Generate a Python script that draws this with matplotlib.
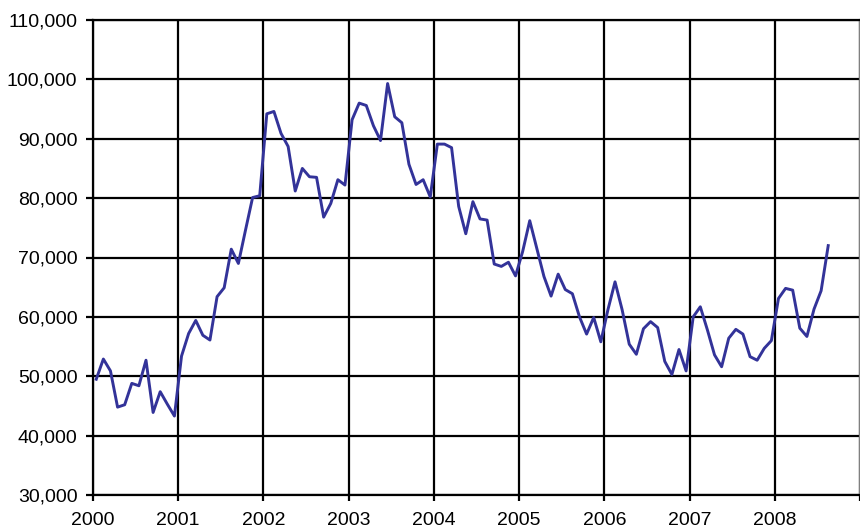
import numpy as np
import matplotlib
matplotlib.use('Agg')
import matplotlib.pyplot as plt
from matplotlib.ticker import FuncFormatter

# monthly values (thousands)
vals_2000 = [49.5, 52.9, 50.9, 44.8, 45.2, 48.8, 48.4, 52.7, 43.9, 47.4, 45.3, 43.3]
vals_2001 = [53.4, 57.2, 59.4, 56.9, 56.1, 63.4, 64.9, 71.4, 69.0, 74.6, 80.1, 80.4]
vals_2002 = [94.2, 94.6, 90.9, 88.7, 81.2, 85.0, 83.6, 83.5, 76.8, 79.1, 83.1, 82.2]
vals_2003 = [93.2, 96.0, 95.6, 92.2, 89.7, 99.3, 93.7, 92.7, 85.7, 82.3, 83.1, 80.2]
vals_2004 = [89.1, 89.1, 88.5, 78.6, 74.0, 79.4, 76.5, 76.3, 68.9, 68.5, 69.2, 66.9]
vals_2005 = [71.0, 76.2, 71.5, 66.8, 63.5, 67.2, 64.6, 63.9, 60.0, 57.1, 59.9, 55.8]
vals_2006 = [61.2, 65.9, 61.2, 55.4, 53.7, 58.0, 59.2, 58.2, 52.5, 50.3, 54.5, 50.9]
vals_2007 = [60.0, 61.7, 57.8, 53.6, 51.6, 56.4, 57.9, 57.1, 53.3, 52.7, 54.7, 56.0]
vals_2008 = [63.1, 64.8, 64.5, 58.1, 56.7, 61.3, 64.4, 72.0]

years = list(range(2000, 2010))
year_labels = [str(y) for y in range(2000, 2009)] + ['']  # 2009 falls off the edge
yticks = list(range(30000, 110001, 10000))

values = np.array(vals_2000 + vals_2001 + vals_2002 + vals_2003 + vals_2004
                  + vals_2005 + vals_2006 + vals_2007 + vals_2008) * 1000
# points sit mid-month
t = 2000 + (np.arange(len(values)) + 0.5) / 12

plt.rcParams['font.family'] = ['Liberation Sans', 'DejaVu Sans']

fig = plt.figure(figsize=(8.6, 5.31), dpi=100)
ax = fig.add_axes([92.7 / 860, 1 - 495 / 531, 767.5 / 860, 475 / 531])

ax.plot(t, values, color='#333399', lw=2.1, zorder=3)

ax.set_xlim(2000, 2009)
ax.set_ylim(30000, 110000)
ax.set_xticks(years)
ax.set_xticklabels(year_labels)
ax.set_yticks(yticks)
ax.yaxis.set_major_formatter(FuncFormatter(lambda v, p: '{:,.0f}'.format(v)))

ax.grid(True, color='black', lw=1.6)
ax.set_axisbelow(True)
for s in ax.spines.values():
    s.set_color('black')
    s.set_linewidth(1.6)
ax.spines['right'].set_color('#808080')

ax.tick_params(axis='y', direction='out', length=5, width=1.6, pad=6,
               labelsize=14, colors='black')
ax.tick_params(axis='x', direction='out', length=4.3, width=1.6, pad=8,
               labelsize=14, colors='black')

fig.savefig('out.png', dpi=100)
